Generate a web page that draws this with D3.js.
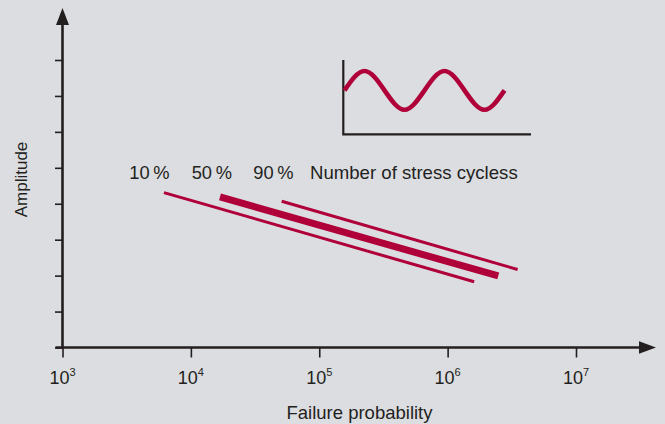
<!DOCTYPE html>
<html>
<head>
<meta charset="utf-8">
<script src="https://cdn.jsdelivr.net/npm/d3@7"></script>
<style>
  html, body { margin: 0; padding: 0; background: #dcdde0; }
  svg { display: block; }
  text { font-family: "Liberation Sans", Arial, Helvetica, sans-serif; fill: #231f20; }
</style>
</head>
<body>
<svg id="chart" width="665" height="424"></svg>
<script>
// S-N bands: probability label, start/end number of cycles, start/end amplitude
const bandLabels = ["10\u2009%", "50\u2009%", "90\u2009%"];
const cyclesStart = [6170, 16860, 50950];
const cyclesEnd = [1.61e6, 2.48e6, 3.51e6];
const ampStart = [4.31, 4.19, 4.07];
const ampEnd = [1.83, 1.99, 2.17];
const bandWidths = [3, 7, 3];

// Decade ticks on the cycles axis
const decadeTicks = [1e3, 1e4, 1e5, 1e6, 1e7];
const decadeExponents = ["3", "4", "5", "6", "7"];

// Inset loading signal, sampled every quarter cycle
const signalPhase = [0, 1, 2, 3, 4, 5, 6, 7, 8];
const signalValue = [0, 1, 0, -1, 0, 1, 0, -1, 0];

const axisColor = "#231f20";
const bandColor = "#b0003a";

const svg = d3.select("#chart");

const x = d3.scaleLog().domain([1e3, 1e7]).range([62.5, 576]);
const y = d3.scaleLinear().domain([0, 8]).range([347.5, 60]);

// Y axis ticks (unlabelled)
const yAxis = svg.append("g")
  .attr("transform", `translate(${x.range()[0]},0)`)
  .call(d3.axisLeft(y).ticks(8).tickSize(7.5).tickSizeOuter(0).tickFormat(""));
yAxis.select(".domain").remove();
yAxis.selectAll("line").attr("stroke", axisColor).attr("stroke-width", 1.6);

// X axis ticks
const xAxis = svg.append("g")
  .attr("transform", `translate(0,${y(0)})`)
  .call(d3.axisBottom(x).tickValues(decadeTicks).tickSize(10).tickSizeOuter(0).tickFormat(""));
xAxis.select(".domain").remove();
xAxis.selectAll("line").attr("stroke", axisColor).attr("stroke-width", 1.6);

// Axis lines with arrowheads
const x0 = x.range()[0], y0 = y(0);
const xTip = 656, yTip = 8;
svg.append("line")
  .attr("x1", x0 - 7).attr("y1", y0).attr("x2", xTip - 14).attr("y2", y0)
  .attr("stroke", axisColor).attr("stroke-width", 2.6);
svg.append("line")
  .attr("x1", x0).attr("y1", y0 + 1.3).attr("x2", x0).attr("y2", yTip + 14)
  .attr("stroke", axisColor).attr("stroke-width", 2.6);
svg.append("path")
  .attr("d", `M${xTip},${y0} L${xTip - 17},${y0 - 6.2} L${xTip - 17},${y0 + 6.2} Z`)
  .attr("fill", axisColor);
svg.append("path")
  .attr("d", `M${x0},${yTip} L${x0 - 6.5},${yTip + 17} L${x0 + 6.5},${yTip + 17} Z`)
  .attr("fill", axisColor);

// Decade labels with superscript exponents
const tickLabels = svg.append("g").selectAll("text")
  .data(decadeTicks)
  .join("text")
  .attr("x", d => x(d))
  .attr("y", 383.5)
  .attr("text-anchor", "middle")
  .attr("font-size", 18);
tickLabels.append("tspan").text("10");
tickLabels.append("tspan")
  .attr("font-size", 11)
  .attr("dy", -7.5)
  .text((d, i) => decadeExponents[i]);

// Axis titles
svg.append("text")
  .attr("x", 359.5).attr("y", 419.3)
  .attr("text-anchor", "middle")
  .attr("font-size", 18.5)
  .text("Failure probability");
svg.append("text")
  .attr("transform", "translate(27,179.5) rotate(-90)")
  .attr("text-anchor", "middle")
  .attr("font-size", 17)
  .text("Amplitude");

// S-N bands
svg.append("g").selectAll("line")
  .data(bandLabels)
  .join("line")
  .attr("x1", (d, i) => x(cyclesStart[i]))
  .attr("y1", (d, i) => y(ampStart[i]))
  .attr("x2", (d, i) => x(cyclesEnd[i]))
  .attr("y2", (d, i) => y(ampEnd[i]))
  .attr("stroke", bandColor)
  .attr("stroke-width", (d, i) => bandWidths[i])
  .attr("stroke-linecap", "butt");

// Band labels and caption row
const labelStarts = [129.3, 191.7, 253.3];
svg.append("g").selectAll("text")
  .data(bandLabels)
  .join("text")
  .attr("x", (d, i) => labelStarts[i])
  .attr("y", 179.3)
  .attr("font-size", 18.3)
  .text(d => d);
svg.append("text")
  .attr("x", 310).attr("y", 179.3)
  .attr("font-size", 18.6)
  .text("Number of stress cycless");

// Inset: loading signal over time
const sx = d3.scaleLinear().domain([0, 8]).range([344.5, 504.5]);
const sy = d3.scaleLinear().domain([-1, 1]).range([109.8, 71]);
svg.append("path")
  .attr("d", `M${343.3},${60} L${343.3},${134.3} L${531},${134.3}`)
  .attr("fill", "none")
  .attr("stroke", axisColor)
  .attr("stroke-width", 2.2);
svg.append("path")
  .datum(signalPhase.map((p, i) => [p, signalValue[i]]))
  .attr("d", d3.line().x(d => sx(d[0])).y(d => sy(d[1])).curve(d3.curveNatural))
  .attr("fill", "none")
  .attr("stroke", bandColor)
  .attr("stroke-width", 4.6);
</script>
</body>
</html>
